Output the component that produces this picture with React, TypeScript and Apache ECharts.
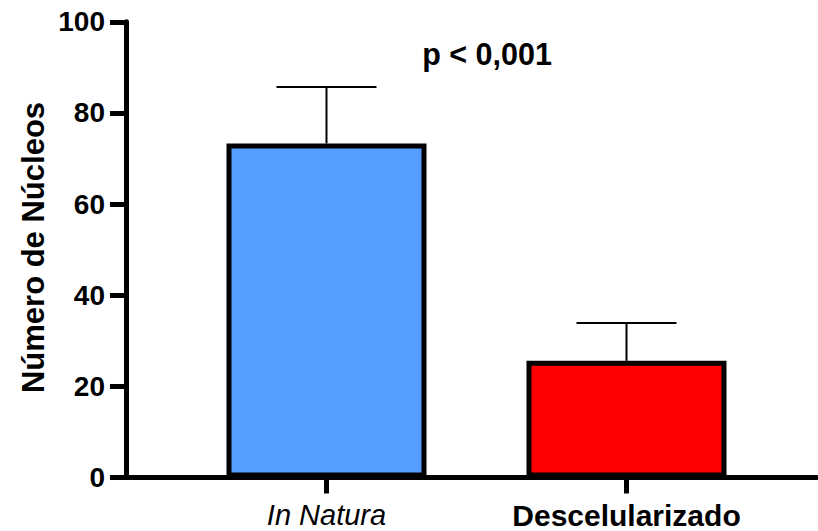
import React, { useEffect, useRef } from "react";
import * as echarts from "echarts";

const categories = ["In Natura", "Descelularizado"];
const means = [73.3, 25.6];
const errors = [12.4, 8.3];
const barColors = ["#559DFF", "#FF0000"];
const yTicks = [0, 20, 40, 60, 80, 100];
const pText = "p < 0,001";
const yTitle = "Número de Núcleos";

export default function App() {
  const ref = useRef<HTMLDivElement>(null);
  useEffect(() => {
    document.body.style.margin = "0";
    const chart = echarts.init(ref.current!, null, { renderer: "svg" });
    const positions = categories.map((_, i) => i + 1);
    const font = "'Liberation Sans', Arial, sans-serif";
    chart.setOption({
      animation: false,
      grid: { left: 126, right: 1, top: 21.8, bottom: 53.5, containLabel: false },
      xAxis: {
        type: "value",
        min: 0.3317,
        max: 2.635,
        splitLine: { show: false },
        axisLine: { show: true, onZero: false, lineStyle: { color: "#000", width: 5 } },
        axisTick: { show: true, customValues: positions, length: 16, lineStyle: { color: "#000", width: 5 } },
        axisLabel: {
          customValues: positions,
          margin: 23,
          formatter: (v: number) => (v === 1 ? "{a|" + categories[0] + "}" : "{b|" + categories[1] + "}"),
          rich: {
            a: { fontFamily: font, fontSize: 29, fontStyle: "italic", fontWeight: "normal", color: "#000" },
            b: { fontFamily: font, fontSize: 30, fontWeight: "bold", color: "#000" },
          },
        },
      },
      yAxis: {
        type: "value",
        min: yTicks[0],
        max: yTicks[yTicks.length - 1],
        interval: 20,
        splitLine: { show: false },
        axisLine: { show: true, lineStyle: { color: "#000", width: 5 } },
        axisTick: { show: true, length: 16, lineStyle: { color: "#000", width: 5 } },
        axisLabel: { fontFamily: font, fontSize: 28, fontWeight: "bold", color: "#000", margin: 21 },
      },
      series: [
        {
          type: "custom",
          z: 1,
          data: means.map((m, i) => [positions[i], m, errors[i]]),
          encode: { x: 0, y: 1 },
          renderItem: (params: any, api: any) => {
            const x = api.value(0);
            const m = api.value(1);
            const e = api.value(2);
            const p0 = api.coord([x, m]);
            const p1 = api.coord([x, m + e]);
            const style = { stroke: "#000", lineWidth: 2 };
            return {
              type: "group",
              children: [
                { type: "line", shape: { x1: p0[0], y1: p0[1], x2: p1[0], y2: p1[1] }, style },
                { type: "line", shape: { x1: p1[0] - 50, y1: p1[1], x2: p1[0] + 50, y2: p1[1] }, style },
              ],
            };
          },
        },
        {
          type: "bar",
          z: 2,
          barWidth: 200,
          data: means.map((m, i) => ({
            value: [positions[i], m],
            itemStyle: { color: barColors[i], borderColor: "#000", borderWidth: 5 },
          })),
        },
      ],
      graphic: [
        {
          type: "text",
          x: 487,
          y: 54,
          style: { text: pText, fontFamily: font, fontSize: 30.5, fontWeight: "bold", fill: "#000", align: "center", verticalAlign: "middle" },
        },
        {
          type: "text",
          x: 33,
          y: 247.5,
          rotation: Math.PI / 2,
          style: { text: yTitle, fontFamily: font, fontSize: 31, fontWeight: "bold", fill: "#000", align: "center", verticalAlign: "middle" },
        },
      ],
    });
    return () => chart.dispose();
  }, []);
  return <div ref={ref} style={{ position: "absolute", left: 0, top: 0, width: 818, height: 531 }} />;
}
